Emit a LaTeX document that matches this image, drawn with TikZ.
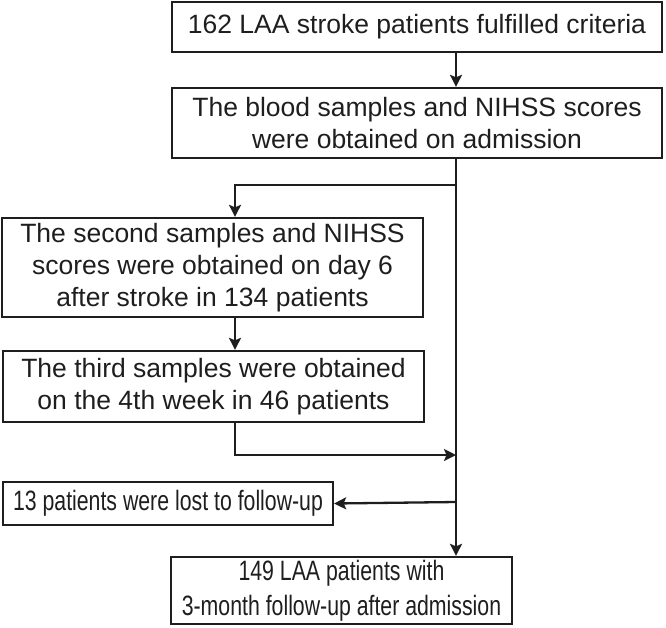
\documentclass[tikz,border=0pt]{standalone}
\usepackage{fontspec}
\setmainfont{Liberation Sans}
\newfontfamily\condB[FakeStretch=0.76]{Liberation Sans}
\usetikzlibrary{arrows.meta}
\definecolor{ink}{HTML}{1E1E1E}
\begin{document}
\begin{tikzpicture}[x=1pt,y=-1pt,
  box/.style={draw=ink,line width=2.3pt,rectangle,inner sep=0pt,align=center,text=ink,
    font=\fontsize{26.5}{32}\selectfont},
  cond/.style={font=\condB\fontsize{28}{35}\selectfont},
  arr/.style={draw=ink,line width=2.3pt,-{Stealth[length=12pt,width=12pt,inset=2.5pt]}}]
\useasboundingbox (0,0) rectangle (666,627);
\node[box,minimum width=490pt,minimum height=50pt] (b1) at (417,27) {162 LAA stroke patients fulfilled criteria};
\node[box,minimum width=490pt,minimum height=70pt] (b2) at (417,123) {The blood samples and NIHSS scores\\were obtained on admission};
\node[box,minimum width=421pt,minimum height=99pt] (b3) at (212.5,267.5) {The second samples and NIHSS\\scores were obtained on day 6\\after stroke in 134 patients};
\node[box,minimum width=421pt,minimum height=71pt] (b4) at (213.5,386.5) {The third samples were obtained\\on the 4th week in 46 patients};
\node[box,cond,minimum width=330pt,minimum height=43pt] (b5) at (168,503.5) {13 patients were lost to follow-up};
\node[box,cond,minimum width=341pt,minimum height=67pt] (b6) at (341.5,590.5) {149 LAA patients with\\3-month follow-up after admission};
\coordinate (mx) at (456,0);
\coordinate (bx) at (235,0);
\coordinate (j1) at (456,185);
\coordinate (j2) at (456,455);
\coordinate (j3) at (456,502);
\draw[arr] (b1.south -| mx) -- (b2.north -| mx);
\draw[arr] (b2.south -| mx) -- (b6.north -| mx);
\draw[arr] (j1) -| (b3.north -| bx);
\draw[arr] (b3.south -| bx) -- (b4.north -| bx);
\draw[arr] (b4.south -| bx) |- (j2);
\draw[arr] (j3) -- (b5.east);
\end{tikzpicture}
\end{document}
